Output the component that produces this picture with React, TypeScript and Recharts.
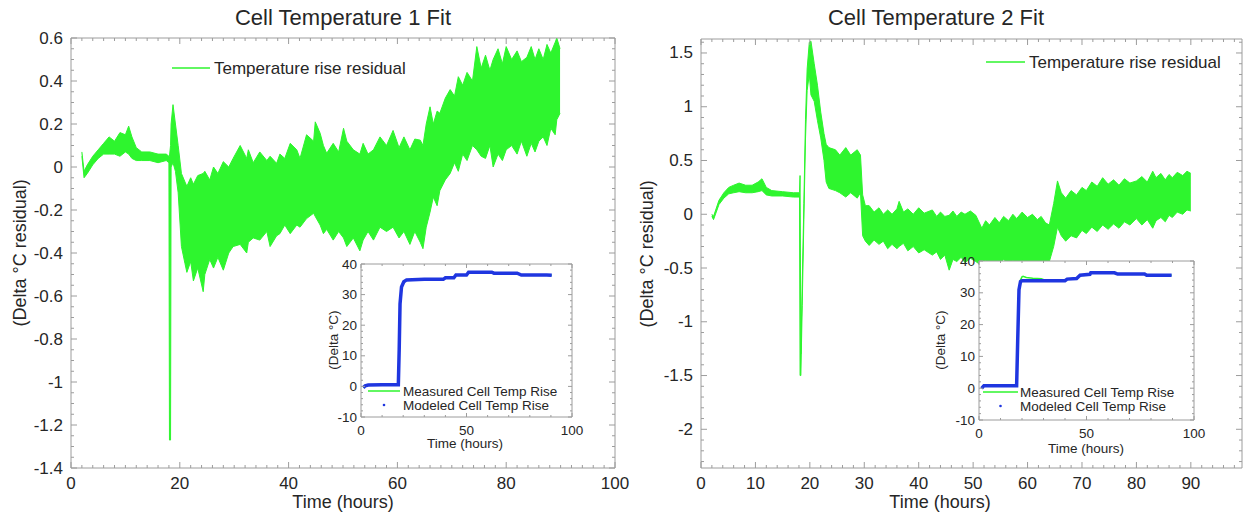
import React from 'react';
import { ComposedChart, Area, Line, XAxis, YAxis, Legend, CartesianGrid } from 'recharts';

const FONT = '"Liberation Sans", Arial, Helvetica, sans-serif';
const GREEN = '#2ef52e';
const BLUE = '#1f36e0';
const FRAME = '#9c9c9c';
const INK = '#262626';

// ---------- Panel 1: Cell Temperature 1 Fit (residual band: low / high envelope) ----------
const p1Time = [
  2.0, 2.4, 3.0, 4.0, 5.0, 6.0, 7.0, 8.0, 9.0, 10.0,
  10.6, 11.2, 12.0, 13.0, 14.5, 16.0, 17.5, 18.0, 18.1, 18.3,
  18.4, 18.75, 19.2, 19.7, 20.3, 20.96, 21.3, 22.0, 22.5, 23.3,
  24.3, 24.6, 25.5, 26.2, 27.0, 28.0, 29.0, 29.8, 31.1, 32.3,
  32.6, 33.5, 34.7, 36.0, 36.6, 37.8, 38.4, 39.3, 40.3, 41.5,
  42.1, 43.3, 44.6, 44.9, 45.8, 46.4, 47.0, 48.2, 49.2, 50.1,
  50.7, 51.9, 53.1, 53.7, 54.6, 55.6, 56.8, 58.0, 59.2, 60.3,
  61.2, 62.3, 63.2, 64.2, 64.7, 65.3, 66.0, 66.6, 67.3, 67.8,
  68.8, 69.7, 70.5, 71.2, 72.0, 72.8, 73.8, 74.6, 75.4, 76.2,
  77.0, 77.6, 78.5, 79.3, 80.0, 81.0, 82.0, 82.8, 83.8, 84.6,
  85.3, 86.0, 86.8, 87.5, 88.2, 89.0, 89.3, 89.9,
];
const p1Low = [
  0.05, -0.05, -0.03, 0.01, 0.04, 0.06, 0.06, 0.06, 0.05, 0.07,
  0.06, 0.04, 0.03, 0.03, 0.03, 0.02, 0.03, 0.02, -1.27, -1.27,
  0.0, 0.02, -0.02, -0.12, -0.37, -0.45, -0.49, -0.44, -0.53, -0.47,
  -0.58, -0.5, -0.43, -0.47, -0.42, -0.48, -0.4, -0.37, -0.36, -0.4,
  -0.35, -0.33, -0.34, -0.3, -0.37, -0.32, -0.31, -0.27, -0.31, -0.27,
  -0.28, -0.24, -0.215, -0.23, -0.27, -0.31, -0.29, -0.34, -0.3, -0.33,
  -0.37, -0.33, -0.39, -0.34, -0.3, -0.34, -0.28, -0.3, -0.28, -0.33,
  -0.3, -0.36, -0.3, -0.35, -0.38, -0.28, -0.21, -0.14, -0.18, -0.11,
  -0.06, -0.03, 0.02, -0.02, 0.06, 0.03, 0.1, 0.08, 0.05, 0.04,
  0.1, 0.0, 0.06, 0.03, 0.08, 0.1, 0.06, 0.12, 0.05, 0.11,
  0.07, 0.12, 0.14, 0.1, 0.18, 0.15, 0.22, 0.25,
];
const p1High = [
  0.07, -0.02, 0.01, 0.05, 0.08, 0.11, 0.14, 0.12, 0.16, 0.15,
  0.19, 0.14, 0.09, 0.07, 0.07, 0.06, 0.06, 0.05, 0.05, 0.1,
  0.2, 0.29, 0.2, 0.1, -0.03, -0.07, -0.09, -0.05, -0.08, -0.04,
  -0.03, -0.02, -0.06, 0.0, -0.03, 0.025, 0.0, 0.04, 0.1, 0.04,
  0.08, 0.02, 0.07, 0.03, 0.05, 0.017, 0.06, 0.04, 0.11, 0.08,
  0.04, 0.15, 0.12, 0.21, 0.157, 0.1, 0.064, 0.11, 0.07, 0.18,
  0.12, 0.08, 0.06, 0.11, 0.06, 0.08, 0.14, 0.1, 0.17, 0.09,
  0.14, 0.08, 0.13, 0.125, 0.1, 0.2, 0.28, 0.2, 0.26, 0.25,
  0.32, 0.36, 0.33, 0.42, 0.38, 0.44, 0.4, 0.56, 0.46, 0.52,
  0.45, 0.5, 0.55, 0.48, 0.56, 0.5, 0.54, 0.49, 0.51, 0.56,
  0.5, 0.55, 0.5, 0.57, 0.53, 0.58, 0.6, 0.55,
];
const p1XTicks = [0, 20, 40, 60, 80, 100];
const p1YTicks = [-1.4, -1.2, -1, -0.8, -0.6, -0.4, -0.2, 0, 0.2, 0.4, 0.6];

// ---------- Panel 2: Cell Temperature 2 Fit ----------
const p2Time = [
  2.0, 2.3, 3.3, 4.2, 5.1, 6.0, 7.0, 8.2, 9.4, 10.5,
  11.2, 12.0, 13.0, 15.0, 17.0, 18.1, 18.2, 18.35, 18.6, 18.9,
  19.2, 19.5, 19.9, 20.2, 20.8, 21.4, 22.0, 22.6, 23.0, 23.5,
  24.7, 25.5, 26.6, 27.5, 28.7, 29.3, 29.7, 30.2, 30.9, 31.8,
  32.7, 33.5, 34.3, 35.1, 36.0, 36.4, 37.2, 38.0, 39.0, 40.0,
  41.0, 42.5, 43.3, 44.0, 44.8, 45.6, 46.3, 47.0, 47.8, 48.5,
  49.5, 50.5, 51.6, 52.3, 53.0, 54.0, 54.8, 55.6, 56.5, 57.3,
  58.0, 59.0, 60.0, 60.9, 61.8, 62.5, 63.3, 64.0, 64.8, 65.5,
  66.2, 67.0, 68.0, 69.0, 70.0, 70.8, 71.8, 72.8, 73.8, 74.8,
  75.8, 76.8, 77.8, 78.8, 80.0, 81.0, 82.0, 83.0, 83.6, 84.5,
  85.3, 86.0, 86.6, 87.5, 88.5, 89.3, 90.0,
];
const p2Low = [
  -0.02, -0.05, 0.09, 0.15, 0.19, 0.2, 0.21, 0.2, 0.2, 0.21,
  0.22, 0.18, 0.17, 0.17, 0.16, 0.16, -1.5, -1.5, -0.85, -0.05,
  0.7, 1.15, 1.3, 1.11, 1.05, 0.87, 0.71, 0.5, 0.3, 0.24,
  0.22, 0.2, 0.16, 0.2, 0.15, 0.2, -0.2, -0.25, -0.29, -0.24,
  -0.28, -0.25, -0.32, -0.28, -0.32, -0.3, -0.27, -0.34, -0.3, -0.36,
  -0.33, -0.38, -0.35, -0.42, -0.38, -0.52, -0.42, -0.44, -0.4, -0.45,
  -0.41, -0.44, -0.48, -0.43, -0.47, -0.44, -0.47, -0.42, -0.46, -0.43,
  -0.47, -0.43, -0.46, -0.44, -0.47, -0.44, -0.46, -0.44, -0.3, -0.12,
  -0.2, -0.25, -0.2, -0.22, -0.15, -0.18, -0.12, -0.16, -0.1, -0.14,
  -0.09, -0.13, -0.07, -0.1, -0.04, -0.1, -0.05, -0.13, -0.06, -0.03,
  -0.07, -0.01, -0.03, 0.02, 0.0, 0.04, 0.03,
];
const p2High = [
  0.0, -0.02, 0.13, 0.2, 0.25, 0.27, 0.29, 0.27, 0.27, 0.3,
  0.33, 0.25, 0.22, 0.21, 0.2, 0.2, 0.36, -1.3, -0.65, 0.1,
  0.88, 1.35, 1.6, 1.61, 1.4, 1.2, 0.95, 0.75, 0.65, 0.62,
  0.6, 0.55, 0.62, 0.55, 0.6, 0.55, 0.18, 0.08, 0.08, 0.02,
  0.06, 0.0, 0.04, 0.0, 0.05, 0.12, 0.02, 0.05, 0.0, 0.06,
  0.01, 0.04, -0.02, 0.02, -0.02, -0.01, 0.03, -0.02, 0.02, 0.0,
  0.03, -0.01, -0.13, -0.06, -0.1, -0.03, -0.08, -0.02, -0.06, 0.0,
  -0.04, 0.02, -0.03, 0.0, -0.05, -0.02, -0.08, -0.1, 0.1, 0.31,
  0.2, 0.15, 0.22, 0.18, 0.25, 0.22, 0.3, 0.26, 0.34, 0.28,
  0.32, 0.27, 0.33, 0.29, 0.31, 0.35, 0.3, 0.4, 0.34, 0.38,
  0.32, 0.37, 0.34, 0.39, 0.36, 0.4, 0.38,
];
const p2XTicks = [0, 10, 20, 30, 40, 50, 60, 70, 80, 90];
const p2YTicks = [-2, -1.5, -1, -0.5, 0, 0.5, 1, 1.5];

// ---------- Insets ----------
const in1Time = [1.1, 2.0, 3.4, 10, 17.7, 18.1, 18.5, 19.2, 20.3, 21.6, 30, 39, 40, 44, 45, 50, 51, 62, 63, 74, 76, 88, 90.4];
const in1Measured = [-0.4, 0.2, 0.46, 0.5, 0.5, 12, 27, 32.5, 34.2, 34.8, 35, 35, 35.5, 35.5, 36.4, 36.4, 37.3, 37.3, 37.0, 37.0, 36.4, 36.4, 36.3];
const in1Modeled = [-0.4, 0.2, 0.46, 0.5, 0.5, 12, 27, 32.5, 34.2, 34.8, 35, 35, 35.5, 35.5, 36.4, 36.4, 37.3, 37.3, 37.0, 37.0, 36.4, 36.4, 36.3];

const in2Time = [1.2, 2.3, 10, 17.5, 18.0, 18.6, 19.3, 20.0, 20.5, 22, 25, 29, 31, 40, 41, 45.4, 47, 51.6, 52, 63, 64.5, 77, 78, 89.6];
const in2Measured = [-0.03, 0.8, 0.8, 0.8, 15, 31, 34, 35.0, 35.2, 34.8, 34.6, 34.4, 33.9, 33.8, 34.3, 34.5, 35.5, 35.8, 36.3, 36.3, 35.9, 35.9, 35.5, 35.5];
const in2Modeled = [-0.03, 0.8, 0.8, 0.8, 15, 31, 33.5, 33.8, 33.8, 33.8, 33.8, 33.8, 33.8, 33.8, 34.3, 34.5, 35.5, 35.8, 36.3, 36.3, 35.9, 35.9, 35.5, 35.5];

const insetXTicks = [0, 50, 100];
const insetYTicks = [-10, 0, 10, 20, 30, 40];

const p1Data = p1Time.map((t, i) => ({ t, band: [p1Low[i], p1High[i]] }));
const p2Data = p2Time.map((t, i) => ({ t, band: [p2Low[i], p2High[i]] }));
const in1Data = in1Time.map((t, i) => ({ t, measured: in1Measured[i], modeled: in1Modeled[i] }));
const in2Data = in2Time.map((t, i) => ({ t, measured: in2Measured[i], modeled: in2Modeled[i] }));

function steps(from: number, to: number, step: number) {
  const out: number[] = [];
  const n = Math.round((to - from) / step);
  for (let i = 0; i <= n; i++) out.push(+(from + i * step).toFixed(4));
  return out;
}

type Side = 'bottom' | 'top' | 'left' | 'right';

function tickRenderer(side: Side, majors: number[], majorLen: number, minorLen: number, fontSize: number, labels: boolean, gap: number) {
  return (props: any) => {
    const { x, y, payload } = props;
    const v = payload.value;
    const major = majors.find((m) => Math.abs(m - v) < 1e-6);
    const isMajor = major !== undefined;
    const len = isMajor ? majorLen : minorLen;
    let l: React.ReactNode = null;
    if (side === 'bottom') l = <line x1={x} y1={y} x2={x} y2={y - len} stroke={FRAME} strokeWidth={1} />;
    if (side === 'top') l = <line x1={x} y1={y} x2={x} y2={y + len} stroke={FRAME} strokeWidth={1} />;
    if (side === 'left') l = <line x1={x} y1={y} x2={x + len} y2={y} stroke={FRAME} strokeWidth={1} />;
    if (side === 'right') l = <line x1={x} y1={y} x2={x - len} y2={y} stroke={FRAME} strokeWidth={1} />;
    let t: React.ReactNode = null;
    if (labels && isMajor) {
      if (side === 'bottom')
        t = (
          <text x={x} y={y + gap} textAnchor="middle" dominantBaseline="central" fontSize={fontSize} fill={INK} fontFamily={FONT}>
            {String(major)}
          </text>
        );
      if (side === 'left')
        t = (
          <text x={x - gap} y={y} textAnchor="end" dominantBaseline="central" fontSize={fontSize} fill={INK} fontFamily={FONT}>
            {String(major)}
          </text>
        );
    }
    return (
      <g>
        {l}
        {t}
      </g>
    );
  };
}

function frameAxes(
  xd: [number, number],
  yd: [number, number],
  xAll: number[],
  xMaj: number[],
  yAll: number[],
  yMaj: number[],
  majLen: number,
  minLen: number,
  fs: number,
  xGap: number,
  yGap: number
) {
  const common = {
    type: 'number' as const,
    allowDataOverflow: true,
    interval: 0 as const,
    tickSize: 0,
    tickMargin: 0,
    tickLine: false,
    axisLine: { stroke: FRAME, strokeWidth: 1 },
  };
  return [
    <XAxis key="b" xAxisId="b" dataKey="t" domain={xd} ticks={xAll} height={1} tick={tickRenderer('bottom', xMaj, majLen, minLen, fs, true, xGap)} {...common} />,
    <XAxis key="t" xAxisId="t" dataKey="t" orientation="top" domain={xd} ticks={xAll} height={1} tick={tickRenderer('top', xMaj, majLen, minLen, fs, false, 0)} {...common} />,
    <YAxis key="l" yAxisId="l" domain={yd} ticks={yAll} width={1} tick={tickRenderer('left', yMaj, majLen, minLen, fs, true, yGap)} {...common} />,
    <YAxis key="r" yAxisId="r" orientation="right" domain={yd} ticks={yAll} width={1} tick={tickRenderer('right', yMaj, majLen, minLen, fs, false, 0)} {...common} />,
  ];
}

const mainLegend = (lineW: number) => (props: any) => {
  const name = props?.payload?.[0]?.value ?? 'Temperature rise residual';
  return (
    <svg width={280} height={22} style={{ display: 'block', overflow: 'visible' }}>
      <line x1={0} y1={11} x2={lineW} y2={11} stroke={GREEN} strokeWidth={1.5} />
      <text x={lineW + 4} y={11} dominantBaseline="central" fontSize={17} fill={INK} fontFamily={FONT}>
        {name}
      </text>
    </svg>
  );
};

const insetLegend = (lineW: number, textX: number) => () => (
  <svg width={220} height={30} style={{ display: 'block', overflow: 'visible' }}>
    <line x1={0} y1={7} x2={lineW} y2={7} stroke={GREEN} strokeWidth={1.5} />
    <text x={textX} y={7} dominantBaseline="central" fontSize={13.5} fill={INK} fontFamily={FONT}>
      Measured Cell Temp Rise
    </text>
    <circle cx={lineW / 2} cy={21} r={1.3} fill={BLUE} />
    <text x={textX} y={21} dominantBaseline="central" fontSize={13.5} fill={INK} fontFamily={FONT}>
      Modeled Cell Temp Rise
    </text>
  </svg>
);

const abs = (left: number, top: number): React.CSSProperties => ({ position: 'absolute', left, top });

function HLabel({ cx, cy, text, size }: { cx: number; cy: number; text: string; size: number }) {
  return (
    <div
      style={{
        position: 'absolute',
        left: cx - 200,
        top: cy - size * 0.6,
        width: 400,
        height: size * 1.2,
        lineHeight: `${size * 1.2}px`,
        textAlign: 'center',
        fontSize: size,
        fontFamily: FONT,
        color: INK,
        whiteSpace: 'nowrap',
      }}
    >
      {text}
    </div>
  );
}

function VLabel({ cx, cy, text, size }: { cx: number; cy: number; text: string; size: number }) {
  return (
    <div
      style={{
        position: 'absolute',
        left: cx - 200,
        top: cy - size * 0.6,
        width: 400,
        height: size * 1.2,
        lineHeight: `${size * 1.2}px`,
        textAlign: 'center',
        fontSize: size,
        fontFamily: FONT,
        color: INK,
        whiteSpace: 'nowrap',
        transform: 'rotate(-90deg)',
      }}
    >
      {text}
    </div>
  );
}

export default function App() {
  return (
    <div style={{ position: 'fixed', left: 0, top: 0, width: 1244, height: 516, background: '#fff', overflow: 'hidden' }}>
      {/* Left main chart: plot 71..615 x 38..468 */}
      <div style={abs(0, 0)}>
        <ComposedChart width={630} height={516} margin={{ top: 37, left: 70, right: 14, bottom: 47 }} data={p1Data}>
          {frameAxes([0, 100], [-1.4, 0.6], steps(0, 100, 2), p1XTicks, steps(-1.4, 0.6, 0.05), p1YTicks, 6, 3, 17, 15, 8)}
          <Area
            xAxisId="b"
            yAxisId="l"
            dataKey="band"
            name="Temperature rise residual"
            type="linear"
            stroke={GREEN}
            strokeWidth={1}
            fill={GREEN}
            fillOpacity={1}
            dot={false}
            activeDot={false}
            isAnimationActive={false}
          />
          <Legend
            layout="horizontal"
            verticalAlign="middle"
            align="center"
            content={mainLegend(38)}
            wrapperStyle={{ left: 172, top: 57, width: 280, height: 22 }}
          />
        </ComposedChart>
      </div>

      {/* Right main chart: plot 701..1242 x 39..468 */}
      <div style={abs(630, 0)}>
        <ComposedChart width={614} height={516} margin={{ top: 38, left: 70, right: 1, bottom: 47 }} data={p2Data}>
          {frameAxes([0, 99.4], [-2.36, 1.63], steps(0, 98, 2), p2XTicks, steps(-2.3, 1.6, 0.1), p2YTicks, 6, 3, 17, 15, 8)}
          <Area
            xAxisId="b"
            yAxisId="l"
            dataKey="band"
            name="Temperature rise residual"
            type="linear"
            stroke={GREEN}
            strokeWidth={1}
            fill={GREEN}
            fillOpacity={1}
            dot={false}
            activeDot={false}
            isAnimationActive={false}
          />
          <Legend
            layout="horizontal"
            verticalAlign="middle"
            align="center"
            content={mainLegend(39)}
            wrapperStyle={{ left: 356, top: 51, width: 280, height: 22 }}
          />
        </ComposedChart>
      </div>

      {/* Inset 1: plot 361..572 x 264..417 */}
      <div style={abs(290, 250)}>
        <ComposedChart width={300} height={210} margin={{ top: 13, left: 70, right: 17, bottom: 42 }} data={in1Data}>
          <CartesianGrid xAxisId="b" yAxisId="l" horizontal={false} vertical={false} fill="#ffffff" fillOpacity={1} />
          {frameAxes([0, 100], [-10, 40], steps(0, 100, 10), insetXTicks, steps(-10, 40, 2), insetYTicks, 4, 2, 13.5, 13, 4)}
          <Line xAxisId="b" yAxisId="l" dataKey="measured" name="Measured Cell Temp Rise" type="linear" stroke={GREEN} strokeWidth={1.5} dot={false} activeDot={false} isAnimationActive={false} />
          <Line xAxisId="b" yAxisId="l" dataKey="modeled" name="Modeled Cell Temp Rise" type="linear" stroke={BLUE} strokeWidth={3.5} dot={false} activeDot={false} isAnimationActive={false} />
          <Legend layout="horizontal" verticalAlign="middle" align="center" content={insetLegend(32, 35)} wrapperStyle={{ left: 78, top: 134, width: 220, height: 30 }} />
        </ComposedChart>
      </div>

      {/* Inset 2: plot 979..1194 x 261..420 */}
      <div style={abs(900, 245)}>
        <ComposedChart width={310} height={220} margin={{ top: 15, left: 78, right: 15, bottom: 44 }} data={in2Data}>
          <CartesianGrid xAxisId="b" yAxisId="l" horizontal={false} vertical={false} fill="#ffffff" fillOpacity={1} />
          {frameAxes([0, 100], [-10, 40], steps(0, 100, 10), insetXTicks, steps(-10, 40, 2), insetYTicks, 4, 2, 13.5, 13, 4)}
          <Line xAxisId="b" yAxisId="l" dataKey="measured" name="Measured Cell Temp Rise" type="linear" stroke={GREEN} strokeWidth={1.5} dot={false} activeDot={false} isAnimationActive={false} />
          <Line xAxisId="b" yAxisId="l" dataKey="modeled" name="Modeled Cell Temp Rise" type="linear" stroke={BLUE} strokeWidth={3.5} dot={false} activeDot={false} isAnimationActive={false} />
          <Legend layout="horizontal" verticalAlign="middle" align="center" content={insetLegend(35, 37)} wrapperStyle={{ left: 83, top: 140, width: 220, height: 30 }} />
        </ComposedChart>
      </div>

      {/* Titles and axis titles */}
      <HLabel cx={343} cy={18} text="Cell Temperature 1 Fit" size={22} />
      <HLabel cx={936} cy={18} text="Cell Temperature 2 Fit" size={22} />
      <HLabel cx={343} cy={503} text="Time (hours)" size={18} />
      <HLabel cx={940} cy={503} text="Time (hours)" size={18} />
      <VLabel cx={21} cy={253} text="(Delta °C residual)" size={18} />
      <VLabel cx={648} cy={254} text="(Delta °C residual)" size={18} />
      <HLabel cx={465} cy={444} text="Time (hours)" size={13.5} />
      <HLabel cx={1086} cy={449} text="Time (hours)" size={13.5} />
      <VLabel cx={334} cy={340} text="(Delta °C)" size={13.5} />
      <VLabel cx={941} cy={340} text="(Delta °C)" size={13.5} />
    </div>
  );
}
